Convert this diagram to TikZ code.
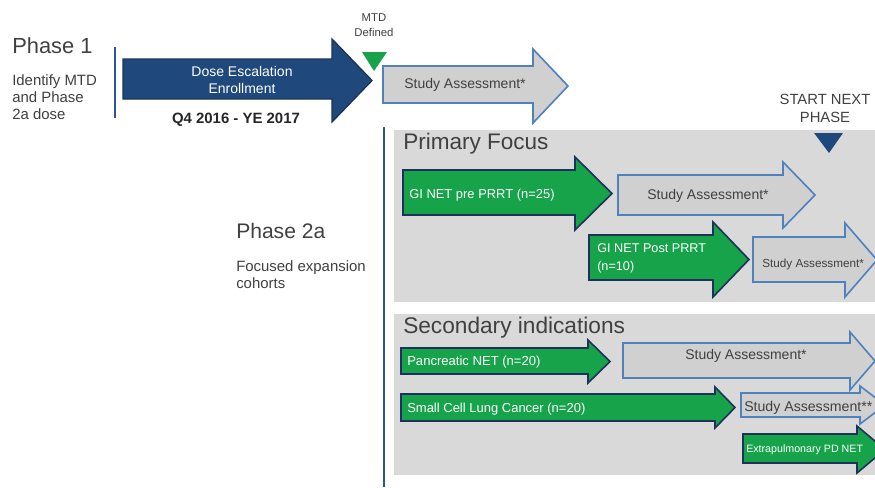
\documentclass[tikz,border=0pt]{standalone}
\usepackage{fontspec}
\setmainfont{Liberation Sans}
\definecolor{navy}{RGB}{31,73,125}
\definecolor{navyline}{RGB}{28,50,90}
\definecolor{grn}{RGB}{22,163,74}
\definecolor{panel}{RGB}{217,217,217}
\definecolor{garrow}{RGB}{208,208,208}
\definecolor{bluel}{RGB}{79,129,189}
\definecolor{vline}{RGB}{47,85,151}
\definecolor{txt}{RGB}{64,64,64}
\tikzset{
  navyarrow/.style={fill=navy,draw=navyline,line width=1pt,line join=miter},
  greenarrow/.style={fill=grn,draw=navyline,line width=1.2pt,line join=miter},
  grayarrow/.style={fill=garrow,draw=bluel,line width=1.2pt,line join=miter},
  lbl/.style={inner sep=0pt,text=txt},
  wlbl/.style={inner sep=0pt,text=white},
}
\newcommand\fatarrow[8]{%
  \path[#1] (#2,#3) -- (#5,#3) -- (#5,#6) -- (#8,{(#6+#7)/2}) -- (#5,#7) -- (#5,#4) -- (#2,#4) -- cycle;}
\newcommand\fs[1]{\fontsize{#1}{#1}\selectfont}
\begin{document}
\begin{tikzpicture}[x=0.75pt,y=-0.75pt]
\useasboundingbox (0,0) rectangle (875,487);
\clip (0,0) rectangle (875,487);
% panels
\fill[panel] (394,130) rectangle (875,302);
\fill[panel] (394,314) rectangle (875,475);
% vertical lines
\draw[vline,line width=1.6pt] (115,47) -- (115,118);
\draw[vline,line width=1.6pt] (384,127) -- (384,487);
% Phase 1 texts
\node[lbl,anchor=base west,font=\fs{16.4}] (ph1) at (12,53) {Phase 1};
\node[lbl,anchor=base west,font=\fs{11.2}] (id1) at (12,85) {Identify MTD};
\node[lbl,anchor=base west,font=\fs{11.2}] (id2) at (12,102.5) {and Phase};
\node[lbl,anchor=base west,font=\fs{11.2}] (id3) at (12,119.5) {2a dose};
% dose escalation arrow
\fatarrow{navyarrow}{123}{59}{99}{332}{39}{122}{372}
\node[wlbl,anchor=base,font=\fs{10.5}] (de1) at (242,76) {Dose Escalation};
\node[wlbl,anchor=base,font=\fs{10.5}] (de2) at (242,93) {Enrollment};
\node[lbl,anchor=base,font=\bfseries\fs{11.2},text=black!85] (q4) at (236,123) {Q4 2016 - YE 2017};
% MTD defined
\node[lbl,anchor=base,font=\fs{8.5}] (mtd1) at (374,21) {MTD};
\node[lbl,anchor=base,font=\fs{8.5}] (mtd2) at (374,36) {Defined};
\fill[grn] (362,52) -- (387,52) -- (374,71) -- cycle;
% top study assessment
\fatarrow{grayarrow}{383}{66}{103}{533}{49}{123}{568}
\node[lbl,anchor=base west,font=\fs{10.5}] (sa0) at (404,88) {Study Assessment*};
% start next phase
\node[lbl,anchor=base,font=\fs{11.1}] (sn1) at (825,104) {START NEXT};
\node[lbl,anchor=base,font=\fs{11.1}] (sn2) at (825,122) {PHASE};
\fill[navy] (814,133) -- (843,133) -- (829,153) -- cycle;
% Phase 2a
\node[lbl,anchor=base west,font=\fs{15.8}] (ph2) at (236,238) {Phase 2a};
\node[lbl,anchor=base west,font=\fs{11.2}] (fe1) at (236,271) {Focused expansion};
\node[lbl,anchor=base west,font=\fs{11.2}] (fe2) at (236,288) {cohorts};
% Primary focus
\node[lbl,anchor=base west,font=\fs{16.9}] (pf) at (403,149) {Primary Focus};
\fatarrow{greenarrow}{403}{170}{215}{575}{157}{230}{612}
\node[wlbl,anchor=base west,font=\fs{9.7}] (gi1) at (409,198) {GI NET pre PRRT (n=25)};
\fatarrow{grayarrow}{618}{175}{215}{783}{162}{228}{815}
\node[lbl,anchor=base west,font=\fs{10.5}] (sa1) at (647,199) {Study Assessment*};
\fatarrow{greenarrow}{589}{235}{280}{713}{222}{297}{749}
\node[wlbl,anchor=base west,font=\fs{9.5}] (gi2a) at (597,252) {GI NET Post PRRT};
\node[wlbl,anchor=base west,font=\fs{9.5}] (gi2b) at (597,270) {(n=10)};
\fatarrow{grayarrow}{753}{237}{282}{845}{223}{297}{877}
\node[lbl,anchor=base west,font=\fs{8.8}] (sa2) at (762,267) {Study Assessment*};
% Secondary indications
\node[lbl,anchor=base west,font=\fs{17}] (si) at (403,333) {Secondary indications};
\fatarrow{greenarrow}{401}{348}{374}{588}{340}{383}{610}
\node[wlbl,anchor=base west,font=\fs{9.8}] (pn) at (407,365) {Pancreatic NET (n=20)};
\fatarrow{grayarrow}{623}{343}{378}{850}{332}{390}{875}
\node[lbl,anchor=base west,font=\fs{10.5}] (sa3) at (685,359) {Study Assessment*};
\fatarrow{greenarrow}{401}{394}{421}{715}{387}{428}{735}
\node[wlbl,anchor=base west,font=\fs{9.75}] (sc) at (407,412) {Small Cell Lung Cancer (n=20)};
\fatarrow{grayarrow}{741}{393}{417}{860}{386}{424}{885}
\node[lbl,anchor=base west,font=\fs{10.6}] (sa4) at (744,411) {Study Assessment**};
\fatarrow{greenarrow}{743}{434}{463}{857}{426}{473}{885}
\node[wlbl,anchor=base west,font=\fs{8}] (ep) at (746,452) {Extrapulmonary PD NET};
\end{tikzpicture}
\end{document}
